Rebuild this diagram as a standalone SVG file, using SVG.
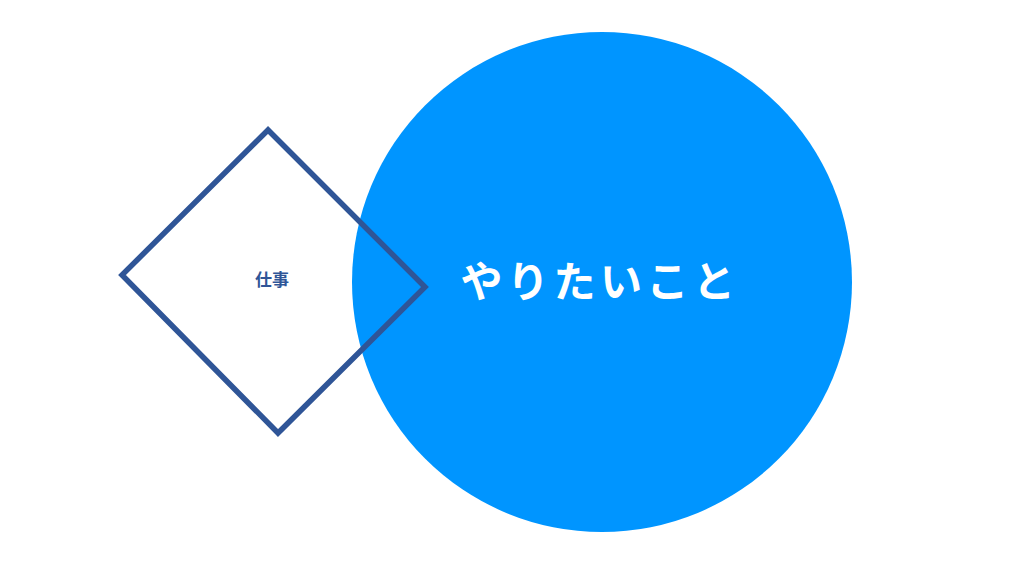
<svg xmlns="http://www.w3.org/2000/svg" width="1024" height="576" viewBox="0 0 1024 576">
<style>
.lbl{font-family:"Noto Sans CJK JP","Noto Sans",sans-serif;text-anchor:middle}
</style>
<rect width="1024" height="576" fill="#ffffff"/>
<g id="circle-yaritaikoto">
<circle cx="602" cy="282" r="250" fill="#0095ff"/>
<text class="lbl" x="600" y="297" font-size="42" font-weight="bold" letter-spacing="4.5" fill="#ffffff">やりたいこと</text>
</g>
<g id="diamond-shigoto">
<polygon points="268,130 122,275 278,433 425,287" fill="none" stroke="#2f5597" stroke-width="5.5" stroke-linejoin="miter"/>
<text class="lbl" x="272" y="286" font-size="17" font-weight="bold" fill="#2f5597">仕事</text>
</g>
<g id="connectors"/>
</svg>
